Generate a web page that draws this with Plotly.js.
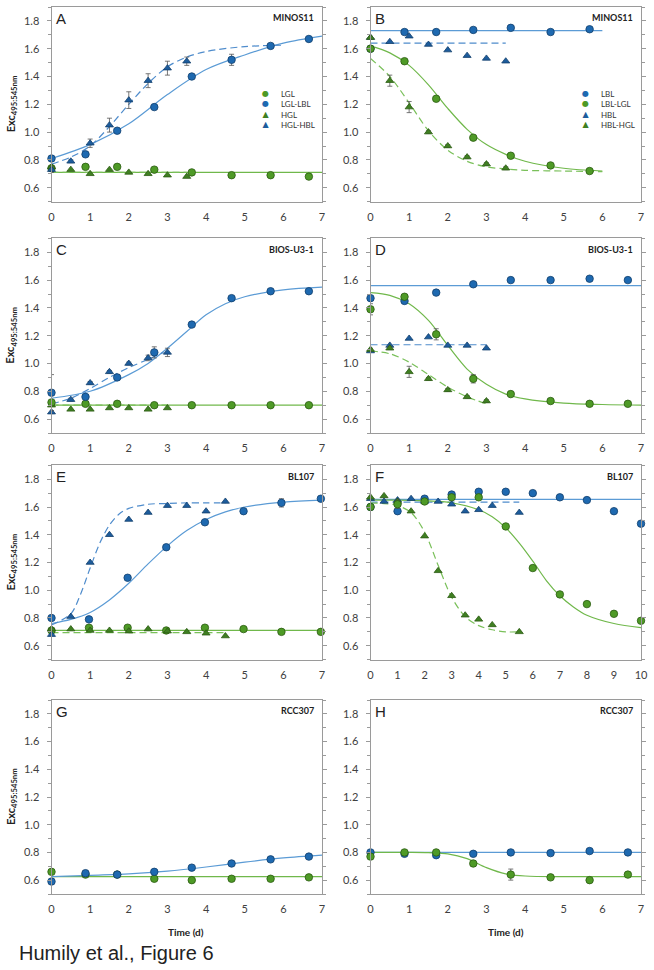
<!DOCTYPE html>
<html><head><meta charset="utf-8">
<script src="https://cdn.plot.ly/plotly-3.0.1.min.js"></script>
<style>html,body{margin:0;padding:0;background:#fff}#chart{width:654px;height:970px}</style>
</head><body><div id="chart"></div>
<script>
// ---------- time points ----------
const T_DAYS   = [0, 0.88, 1.7, 2.66, 3.63, 4.66, 5.67, 6.66];
const T_DAYS_B = [0, 0.88, 1.7, 2.66, 3.63, 4.66, 5.67];
const T_HALF   = [0, 0.5, 1, 1.5, 2, 2.5, 3, 3.5];
const T_HALF_3 = [0, 0.5, 1, 1.5, 2, 2.5, 3];
const T_E      = [0, 0.97, 1.97, 2.97, 3.97, 4.97, 5.95, 6.97];
const T_E_HALF = [0, 0.5, 1, 1.5, 2, 2.5, 3, 3.5, 4, 4.5];
const T_F      = [0, 1, 2, 3, 4, 5, 6, 7, 8, 9, 10];
const T_F_HALF = [0, 0.5, 1, 1.5, 2, 2.5, 3, 3.5, 4, 4.5, 5.5];

// ---------- panel labels ----------
const PANEL_LETTERS = ['A','B','C','D','E','F','G','H'];
const STRAINS = ['MINOS11','MINOS11','BIOS-U3-1','BIOS-U3-1','BL107','BL107','RCC307','RCC307'];
const LEGEND_A = ['LGL','LGL-LBL','HGL','HGL-HBL'];
const LEGEND_B = ['LBL','LBL-LGL','HBL','HBL-HGL'];
const Y_TICKS = [0.6, 0.8, 1.0, 1.2, 1.4, 1.6, 1.8];

// ---------- Panel A (MINOS11, green -> blue) ----------
const A_LGL         = [0.74, 0.75, 0.75, 0.73, 0.71, 0.69, 0.69, 0.68];
const A_LGL_LBL     = [0.81, 0.84, 1.01, 1.18, 1.40, 1.52, 1.62, 1.67];
const A_LGL_LBL_ERR = [0.02, 0.01, 0.01, 0.01, 0.01, 0.04, 0.01, 0.01];
const A_HGL         = [0.75, 0.73, 0.70, 0.73, 0.71, 0.70, 0.69, 0.68];
const A_HGL_HBL     = [0.73, 0.79, 0.92, 1.05, 1.23, 1.37, 1.46, 1.51];
const A_HGL_HBL_ERR = [0.02, 0.01, 0.03, 0.05, 0.06, 0.05, 0.05, 0.03];
const A_FIT_LBL_X = [0, 1, 2, 3, 4, 5, 6, 7];
const A_FIT_LBL_Y = [0.81, 0.91, 1.06, 1.27, 1.45, 1.555, 1.64, 1.69];
const A_FIT_HBL_X = [0, 0.5, 1, 1.5, 2, 2.5, 3, 3.5, 4, 5, 6];
const A_FIT_HBL_Y = [0.77, 0.82, 0.90, 1.04, 1.20, 1.35, 1.47, 1.54, 1.58, 1.615, 1.625];
const A_FIT_LGL_X = [0, 7];   const A_FIT_LGL_Y = [0.71, 0.71];
const A_FIT_HGL_X = [0, 3.5]; const A_FIT_HGL_Y = [0.71, 0.71];

// ---------- Panel B (MINOS11, blue -> green) ----------
const B_LBL         = [1.60, 1.72, 1.72, 1.735, 1.75, 1.72, 1.74];
const B_LBL_LGL     = [1.60, 1.51, 1.24, 0.96, 0.83, 0.76, 0.72];
const B_HBL         = [1.68, 1.65, 1.69, 1.63, 1.59, 1.55, 1.53, 1.51];
const B_HBL_HGL     = [1.68, 1.37, 1.18, 1.00, 0.90, 0.82, 0.77, 0.74];
const B_HBL_HGL_ERR = [0.01, 0.04, 0.04, 0.01, 0.01, 0.01, 0.01, 0.01];
const B_FIT_LBL_X = [0, 6];   const B_FIT_LBL_Y = [1.73, 1.73];
const B_FIT_HBL_X = [0, 3.5]; const B_FIT_HBL_Y = [1.64, 1.64];
const B_FIT_LGL_X = [0, 0.5, 1, 1.5, 2, 2.5, 3, 3.5, 4, 5, 6];
const B_FIT_LGL_Y = [1.62, 1.57, 1.48, 1.34, 1.17, 1.02, 0.91, 0.84, 0.79, 0.74, 0.72];
const B_FIT_HGL_X = [0, 0.5, 1, 1.5, 2, 2.5, 3, 3.5, 4, 5, 6];
const B_FIT_HGL_Y = [1.53, 1.40, 1.21, 1.01, 0.87, 0.79, 0.75, 0.735, 0.725, 0.72, 0.715];

// ---------- Panel C (BIOS-U3-1, green -> blue) ----------
const C_LGL         = [0.72, 0.71, 0.71, 0.70, 0.70, 0.70, 0.70, 0.70];
const C_LGL_LBL     = [0.79, 0.76, 0.90, 1.08, 1.28, 1.47, 1.52, 1.52];
const C_LGL_LBL_ERR = [0.13, 0.01, 0.02, 0.04, 0.01, 0.01, 0.01, 0.01];
const C_HGL         = [0.70, 0.67, 0.67, 0.68, 0.68, 0.67, 0.68];
const C_HGL_HBL     = [0.65, 0.74, 0.86, 0.94, 1.00, 1.04, 1.08];
const C_HGL_HBL_ERR = [0.01, 0.01, 0.01, 0.01, 0.01, 0.02, 0.03];
const C_FIT_LBL_X = [0, 1, 2, 2.5, 3, 3.5, 4, 4.5, 5, 6, 7];
const C_FIT_LBL_Y = [0.75, 0.80, 0.92, 1.00, 1.11, 1.23, 1.35, 1.43, 1.48, 1.53, 1.55];
const C_FIT_HBL_X = [0, 0.5, 1, 1.5, 2, 2.5, 2.9];
const C_FIT_HBL_Y = [0.71, 0.75, 0.82, 0.90, 0.97, 1.03, 1.08];
const C_FIT_LGL_X = [0, 7]; const C_FIT_LGL_Y = [0.70, 0.70];
const C_FIT_HGL_X = [0, 3]; const C_FIT_HGL_Y = [0.70, 0.70];

// ---------- Panel D (BIOS-U3-1, blue -> green) ----------
const D_LBL         = [1.47, 1.45, 1.51, 1.57, 1.60, 1.60, 1.61, 1.60];
const D_LBL_LGL     = [1.39, 1.48, 1.21, 0.89, 0.78, 0.73, 0.71, 0.71];
const D_LBL_LGL_ERR = [0.04, 0.01, 0.04, 0.03, 0.01, 0.01, 0.01, 0.01];
const D_HBL         = [1.09, 1.13, 1.18, 1.19, 1.13, 1.13, 1.11];
const D_HBL_HGL     = [1.10, 1.11, 0.94, 0.89, 0.81, 0.76, 0.73];
const D_HBL_HGL_ERR = [0.01, 0.01, 0.04, 0.01, 0.01, 0.01, 0.01];
const D_FIT_LBL_X = [0, 7]; const D_FIT_LBL_Y = [1.56, 1.56];
const D_FIT_HBL_X = [0, 3]; const D_FIT_HBL_Y = [1.135, 1.135];
const D_FIT_LGL_X = [0, 0.5, 1, 1.5, 2, 2.5, 3, 3.5, 4, 5, 6, 7];
const D_FIT_LGL_Y = [1.51, 1.49, 1.43, 1.31, 1.13, 0.96, 0.85, 0.78, 0.745, 0.715, 0.705, 0.70];
const D_FIT_HGL_X = [0, 0.5, 1, 1.5, 2, 2.5, 3];
const D_FIT_HGL_Y = [1.09, 1.07, 1.01, 0.92, 0.83, 0.76, 0.71];

// ---------- Panel E (BL107, green -> blue) ----------
const E_LGL         = [0.71, 0.73, 0.73, 0.71, 0.73, 0.72, 0.70, 0.70];
const E_LGL_LBL     = [0.80, 0.79, 1.09, 1.31, 1.49, 1.57, 1.63, 1.66];
const E_LGL_LBL_ERR = [0.01, 0.01, 0.01, 0.01, 0.01, 0.01, 0.03, 0.01];
const E_HGL         = [0.72, 0.72, 0.71, 0.71, 0.705, 0.72, 0.705, 0.70, 0.69, 0.67];
const E_HGL_HBL     = [0.68, 0.81, 1.20, 1.40, 1.51, 1.56, 1.61, 1.61, 1.57, 1.64];
const E_FIT_LBL_X = [0, 0.5, 1, 1.5, 2, 2.5, 3, 3.5, 4, 4.5, 5, 6, 7];
const E_FIT_LBL_Y = [0.76, 0.79, 0.84, 0.93, 1.05, 1.19, 1.32, 1.43, 1.51, 1.565, 1.60, 1.635, 1.65];
const E_FIT_HBL_X = [0, 0.5, 0.75, 1, 1.25, 1.5, 1.75, 2, 2.5, 3, 3.5, 4, 4.5];
const E_FIT_HBL_Y = [0.75, 0.83, 0.97, 1.16, 1.34, 1.47, 1.55, 1.59, 1.62, 1.625, 1.63, 1.63, 1.63];
const E_FIT_LGL_X = [0, 7];   const E_FIT_LGL_Y = [0.71, 0.71];
const E_FIT_HGL_X = [0, 4.5]; const E_FIT_HGL_Y = [0.695, 0.695];

// ---------- Panel F (BL107, blue -> green) ----------
const F_LBL         = [1.60, 1.57, 1.66, 1.69, 1.71, 1.71, 1.70, 1.67, 1.65, 1.57, 1.48];
const F_LBL_LGL     = [1.60, 1.62, 1.64, 1.67, 1.67, 1.46, 1.16, 0.97, 0.90, 0.83, 0.78];
const F_LBL_LGL_ERR = [0.01, 0.03, 0.01, 0.01, 0.01, 0.01, 0.01, 0.01, 0.01, 0.01, 0.01];
const F_HBL         = [1.66, 1.64, 1.65, 1.66, 1.64, 1.64, 1.62, 1.57, 1.58, 1.61, 1.56];
const F_HBL_HGL     = [1.67, 1.68, 1.64, 1.57, 1.39, 1.14, 0.96, 0.82, 0.79, 0.75, 0.70];
const F_FIT_LBL_X = [0, 10];  const F_FIT_LBL_Y = [1.655, 1.655];
const F_FIT_HBL_X = [0, 5.5]; const F_FIT_HBL_Y = [1.635, 1.635];
const F_FIT_LGL_X = [0, 1, 2, 3, 4, 4.5, 5, 5.5, 6, 6.5, 7, 7.5, 8, 9, 10];
const F_FIT_LGL_Y = [1.65, 1.65, 1.645, 1.63, 1.58, 1.53, 1.45, 1.34, 1.21, 1.07, 0.96, 0.88, 0.82, 0.76, 0.73];
const F_FIT_HGL_X = [0, 0.5, 1, 1.5, 2, 2.5, 3, 3.5, 4, 4.5, 5, 5.5];
const F_FIT_HGL_Y = [1.63, 1.625, 1.61, 1.56, 1.42, 1.18, 0.95, 0.81, 0.745, 0.715, 0.70, 0.70];

// ---------- Panel G (RCC307, green -> blue) ----------
const G_LGL         = [0.66, 0.64, 0.64, 0.61, 0.60, 0.61, 0.61, 0.62];
const G_LGL_LBL     = [0.59, 0.65, 0.64, 0.66, 0.69, 0.72, 0.75, 0.77];
const G_LGL_LBL_ERR = [0.02, 0.02, 0.01, 0.01, 0.01, 0.01, 0.01, 0.01];
const G_FIT_LBL_X = [0, 1, 2, 3, 4, 5, 6, 7];
const G_FIT_LBL_Y = [0.625, 0.635, 0.645, 0.665, 0.695, 0.73, 0.76, 0.78];
const G_FIT_LGL_X = [0, 7]; const G_FIT_LGL_Y = [0.625, 0.625];

// ---------- Panel H (RCC307, blue -> green) ----------
const H_LBL         = [0.80, 0.79, 0.78, 0.79, 0.80, 0.795, 0.81, 0.80];
const H_LBL_LGL     = [0.77, 0.80, 0.80, 0.72, 0.64, 0.62, 0.60, 0.64];
const H_LBL_LGL_ERR = [0.02, 0.01, 0.01, 0.02, 0.04, 0.01, 0.01, 0.01];
const H_FIT_LBL_X = [0, 7]; const H_FIT_LBL_Y = [0.80, 0.80];
const H_FIT_LGL_X = [0, 1, 1.5, 2, 2.5, 3, 3.5, 4, 5, 7];
const H_FIT_LGL_Y = [0.80, 0.80, 0.798, 0.79, 0.755, 0.69, 0.645, 0.63, 0.625, 0.625];

// ---------- styles ----------
const BLUE_FILL = '#1e69b0', BLUE_EDGE = '#123f6c';
const GREEN_FILL = '#4e9a26', GREEN_EDGE = '#2b5a12';
const BLUE_TRI = '#1d5c9c', GREEN_TRI = '#3f7f22';
const BLUE_LINE = '#5b9bd5', GREEN_LINE = '#70b84b';
const BLUE_DASH = '#4f8ccc', GREEN_DASH = '#7ac05a';
const AX_COLOR = '#9a9a9a';
const FONT = 'Lato, "Open Sans", sans-serif';

function axn(i){ return i === 1 ? '' : String(i); }

function fit(i, x, y, color, dashed){
  return {type:'scatter', mode:'lines', x, y, xaxis:'x'+axn(i), yaxis:'y'+axn(i),
    line:{color, width:1.2, shape: x.length > 2 ? 'spline' : 'linear', smoothing:0.9, dash: dashed ? '7px,4px' : 'solid'},
    hoverinfo:'skip', showlegend:false};
}
function pts(i, x, y, fill, edge, sym, err){
  const t = {type:'scatter', mode:'markers', x, y, xaxis:'x'+axn(i), yaxis:'y'+axn(i), cliponaxis:false,
    marker:{symbol:sym, size: sym === 'circle' ? 7.5 : 7, color:fill, line:{color:edge, width:0.8}},
    showlegend:false};
  if (err) t.error_y = {type:'data', array:err, visible:true, color:'#555', thickness:0.8, width:2.5};
  return t;
}
const C = 'circle', TR = 'triangle-up';

const traces = [
  // A
  fit(1, A_FIT_LGL_X, A_FIT_LGL_Y, GREEN_LINE, false),
  fit(1, A_FIT_HGL_X, A_FIT_HGL_Y, GREEN_DASH, true),
  fit(1, A_FIT_LBL_X, A_FIT_LBL_Y, BLUE_LINE, false),
  fit(1, A_FIT_HBL_X, A_FIT_HBL_Y, BLUE_DASH, true),
  pts(1, T_DAYS, A_LGL, GREEN_FILL, GREEN_EDGE, C),
  pts(1, T_HALF, A_HGL, GREEN_TRI, GREEN_EDGE, TR),
  pts(1, T_HALF, A_HGL_HBL, BLUE_TRI, BLUE_EDGE, TR, A_HGL_HBL_ERR),
  pts(1, T_DAYS, A_LGL_LBL, BLUE_FILL, BLUE_EDGE, C, A_LGL_LBL_ERR),
  // B
  fit(2, B_FIT_LBL_X, B_FIT_LBL_Y, BLUE_LINE, false),
  fit(2, B_FIT_HBL_X, B_FIT_HBL_Y, BLUE_DASH, true),
  fit(2, B_FIT_LGL_X, B_FIT_LGL_Y, GREEN_LINE, false),
  fit(2, B_FIT_HGL_X, B_FIT_HGL_Y, GREEN_DASH, true),
  pts(2, T_DAYS_B, B_LBL, BLUE_FILL, BLUE_EDGE, C),
  pts(2, T_HALF, B_HBL, BLUE_TRI, BLUE_EDGE, TR),
  pts(2, T_HALF, B_HBL_HGL, GREEN_TRI, GREEN_EDGE, TR, B_HBL_HGL_ERR),
  pts(2, T_DAYS_B, B_LBL_LGL, GREEN_FILL, GREEN_EDGE, C),
  // C
  fit(3, C_FIT_LGL_X, C_FIT_LGL_Y, GREEN_LINE, false),
  fit(3, C_FIT_HGL_X, C_FIT_HGL_Y, GREEN_DASH, true),
  fit(3, C_FIT_LBL_X, C_FIT_LBL_Y, BLUE_LINE, false),
  fit(3, C_FIT_HBL_X, C_FIT_HBL_Y, BLUE_DASH, true),
  pts(3, T_HALF_3, C_HGL, GREEN_TRI, GREEN_EDGE, TR),
  pts(3, T_DAYS, C_LGL, GREEN_FILL, GREEN_EDGE, C),
  pts(3, T_HALF_3, C_HGL_HBL, BLUE_TRI, BLUE_EDGE, TR, C_HGL_HBL_ERR),
  pts(3, T_DAYS, C_LGL_LBL, BLUE_FILL, BLUE_EDGE, C, C_LGL_LBL_ERR),
  // D
  fit(4, D_FIT_LBL_X, D_FIT_LBL_Y, BLUE_LINE, false),
  fit(4, D_FIT_HBL_X, D_FIT_HBL_Y, BLUE_DASH, true),
  fit(4, D_FIT_LGL_X, D_FIT_LGL_Y, GREEN_LINE, false),
  fit(4, D_FIT_HGL_X, D_FIT_HGL_Y, GREEN_DASH, true),
  pts(4, T_DAYS, D_LBL, BLUE_FILL, BLUE_EDGE, C),
  pts(4, T_HALF_3, D_HBL, BLUE_TRI, BLUE_EDGE, TR),
  pts(4, T_HALF_3, D_HBL_HGL, GREEN_TRI, GREEN_EDGE, TR, D_HBL_HGL_ERR),
  pts(4, T_DAYS, D_LBL_LGL, GREEN_FILL, GREEN_EDGE, C, D_LBL_LGL_ERR),
  // E
  fit(5, E_FIT_LGL_X, E_FIT_LGL_Y, GREEN_LINE, false),
  fit(5, E_FIT_HGL_X, E_FIT_HGL_Y, GREEN_DASH, true),
  fit(5, E_FIT_LBL_X, E_FIT_LBL_Y, BLUE_LINE, false),
  fit(5, E_FIT_HBL_X, E_FIT_HBL_Y, BLUE_DASH, true),
  pts(5, T_E, E_LGL, GREEN_FILL, GREEN_EDGE, C),
  pts(5, T_E_HALF, E_HGL, GREEN_TRI, GREEN_EDGE, TR),
  pts(5, T_E_HALF, E_HGL_HBL, BLUE_TRI, BLUE_EDGE, TR),
  pts(5, T_E, E_LGL_LBL, BLUE_FILL, BLUE_EDGE, C, E_LGL_LBL_ERR),
  // F
  fit(6, F_FIT_LBL_X, F_FIT_LBL_Y, BLUE_LINE, false),
  fit(6, F_FIT_HBL_X, F_FIT_HBL_Y, BLUE_DASH, true),
  fit(6, F_FIT_LGL_X, F_FIT_LGL_Y, GREEN_LINE, false),
  fit(6, F_FIT_HGL_X, F_FIT_HGL_Y, GREEN_DASH, true),
  pts(6, T_F, F_LBL, BLUE_FILL, BLUE_EDGE, C),
  pts(6, T_F_HALF, F_HBL, BLUE_TRI, BLUE_EDGE, TR),
  pts(6, T_F_HALF, F_HBL_HGL, GREEN_TRI, GREEN_EDGE, TR),
  pts(6, T_F, F_LBL_LGL, GREEN_FILL, GREEN_EDGE, C, F_LBL_LGL_ERR),
  // G
  fit(7, G_FIT_LGL_X, G_FIT_LGL_Y, GREEN_LINE, false),
  fit(7, G_FIT_LBL_X, G_FIT_LBL_Y, BLUE_LINE, false),
  pts(7, T_DAYS, G_LGL, GREEN_FILL, GREEN_EDGE, C),
  pts(7, T_DAYS, G_LGL_LBL, BLUE_FILL, BLUE_EDGE, C, G_LGL_LBL_ERR),
  // H
  fit(8, H_FIT_LBL_X, H_FIT_LBL_Y, BLUE_LINE, false),
  fit(8, H_FIT_LGL_X, H_FIT_LGL_Y, GREEN_LINE, false),
  pts(8, T_DAYS, H_LBL, BLUE_FILL, BLUE_EDGE, C),
  pts(8, T_DAYS, H_LBL_LGL, GREEN_FILL, GREEN_EDGE, C, H_LBL_LGL_ERR)
];

// ---------- layout ----------
const W = 654, H = 970;
const COLS = [[51.5, 322], [370.5, 641]];
const ROWS = [[7, 201.6], [238.4, 433], [465.4, 659.6], [700, 894]];
const XMAX = [7, 7, 7, 7, 7, 10, 7, 7];

const layout = {
  width: W, height: H, margin:{l:0, r:0, t:0, b:0},
  paper_bgcolor:'#fff', plot_bgcolor:'#fff', showlegend:false,
  font:{family:FONT, color:'#404040', size:11},
  annotations: []
};

for (let i = 1; i <= 8; i++) {
  const col = (i - 1) % 2, row = Math.floor((i - 1) / 2);
  const xd = [COLS[col][0] / W, COLS[col][1] / W];
  const yd = [1 - ROWS[row][1] / H, 1 - ROWS[row][0] / H];
  layout['xaxis' + axn(i)] = {
    domain: xd, anchor: 'y' + axn(i), range: [0, XMAX[i - 1]], dtick: 1, tick0: 0,
    showgrid: false, zeroline: false, showline: true, mirror: true, linecolor: AX_COLOR, linewidth: 1,
    ticks: '', ticklabelstandoff: 5, tickfont: {family: FONT, size: 11, color: '#404040'}, fixedrange: true
  };
  layout['yaxis' + axn(i)] = {
    domain: yd, anchor: 'x' + axn(i), range: [0.5, 1.9], tickvals: Y_TICKS, tickformat: '.1f',
    showgrid: false, zeroline: false, showline: true, mirror: 'ticks', linecolor: AX_COLOR, linewidth: 1,
    ticks: 'outside', ticklen: 4, tickcolor: AX_COLOR, ticklabelstandoff: 5,
    minor: {dtick: 0.1, tick0: 0.5, ticks: 'outside', ticklen: 3, tickcolor: AX_COLOR, showgrid: false},
    tickfont: {family: FONT, size: 11, color: '#404040'}, fixedrange: true
  };
  // panel letter
  layout.annotations.push({xref: 'x' + axn(i) + ' domain', yref: 'y' + axn(i) + ' domain', x: 0.008, y: 0.995,
    xanchor: 'left', yanchor: 'top', showarrow: false, text: PANEL_LETTERS[i - 1],
    font: {family: '"Liberation Sans", Arial, sans-serif', size: 15, color: '#222'}});
  // strain label
  layout.annotations.push({xref: 'x' + axn(i) + ' domain', yref: 'y' + axn(i) + ' domain', x: 0.978, y: 0.944,
    xanchor: 'right', yanchor: 'middle', showarrow: false, text: '<b>' + STRAINS[i - 1] + '</b>',
    font: {family: FONT, size: 9, color: '#222'}});
  // y title on left column
  if (col === 0) {
    layout.annotations.push({xref: 'paper', yref: 'paper', x: 11 / W, y: 1 - (ROWS[row][0] + ROWS[row][1]) / 2 / H,
      xanchor: 'center', yanchor: 'middle', textangle: -90, showarrow: false,
      text: '<b>Exc<sub>495:545nm</sub></b>', font: {family: FONT, size: 11, color: '#222'}});
  }
}

// x titles
[[186, 'Time (d)'], [506, 'Time (d)']].forEach(([px, t]) => {
  layout.annotations.push({xref: 'paper', yref: 'paper', x: px / W, y: 1 - 932 / H, xanchor: 'center', yanchor: 'middle',
    showarrow: false, text: '<b>' + t + '</b>', font: {family: FONT, size: 10, color: '#222'}});
});

// legends (panels A and B): one glyph column and one label column each
const LEG_A_STYLE = [['●', GREEN_FILL], ['●', BLUE_FILL], ['▲', GREEN_TRI], ['▲', BLUE_TRI]];
const LEG_B_STYLE = [['●', BLUE_FILL], ['●', GREEN_FILL], ['▲', BLUE_TRI], ['▲', GREEN_TRI]];
const LEG_CENTER_Y = 109;
[[265, 279, LEGEND_A, LEG_A_STYLE], [585, 599, LEGEND_B, LEG_B_STYLE]].forEach(([gx, tx, labels, styles]) => {
  const yy = 1 - LEG_CENTER_Y / H;
  layout.annotations.push({xref: 'paper', yref: 'paper', x: gx / W, y: yy, xanchor: 'center', yanchor: 'middle', align: 'center',
    showarrow: false, text: styles.map(s => '<span style="color:' + s[1] + '">' + s[0] + '</span>').join('<br>'),
    font: {family: '"DejaVu Sans", sans-serif', size: 8, color: '#333'}});
  layout.annotations.push({xref: 'paper', yref: 'paper', x: tx / W, y: yy, xanchor: 'left', yanchor: 'middle', align: 'left',
    showarrow: false, text: labels.join('<br>'), font: {family: FONT, size: 8, color: '#333'}});
});

// footer
layout.annotations.push({xref: 'paper', yref: 'paper', x: 17 / W, y: 1 - 953 / H, xanchor: 'left', yanchor: 'middle',
  showarrow: false, text: 'Humily et al., Figure 6', font: {family: '"Liberation Sans", Arial, sans-serif', size: 20, color: '#222'}});

Plotly.newPlot('chart', traces, layout, {staticPlot: true, displayModeBar: false});
</script></body></html>
